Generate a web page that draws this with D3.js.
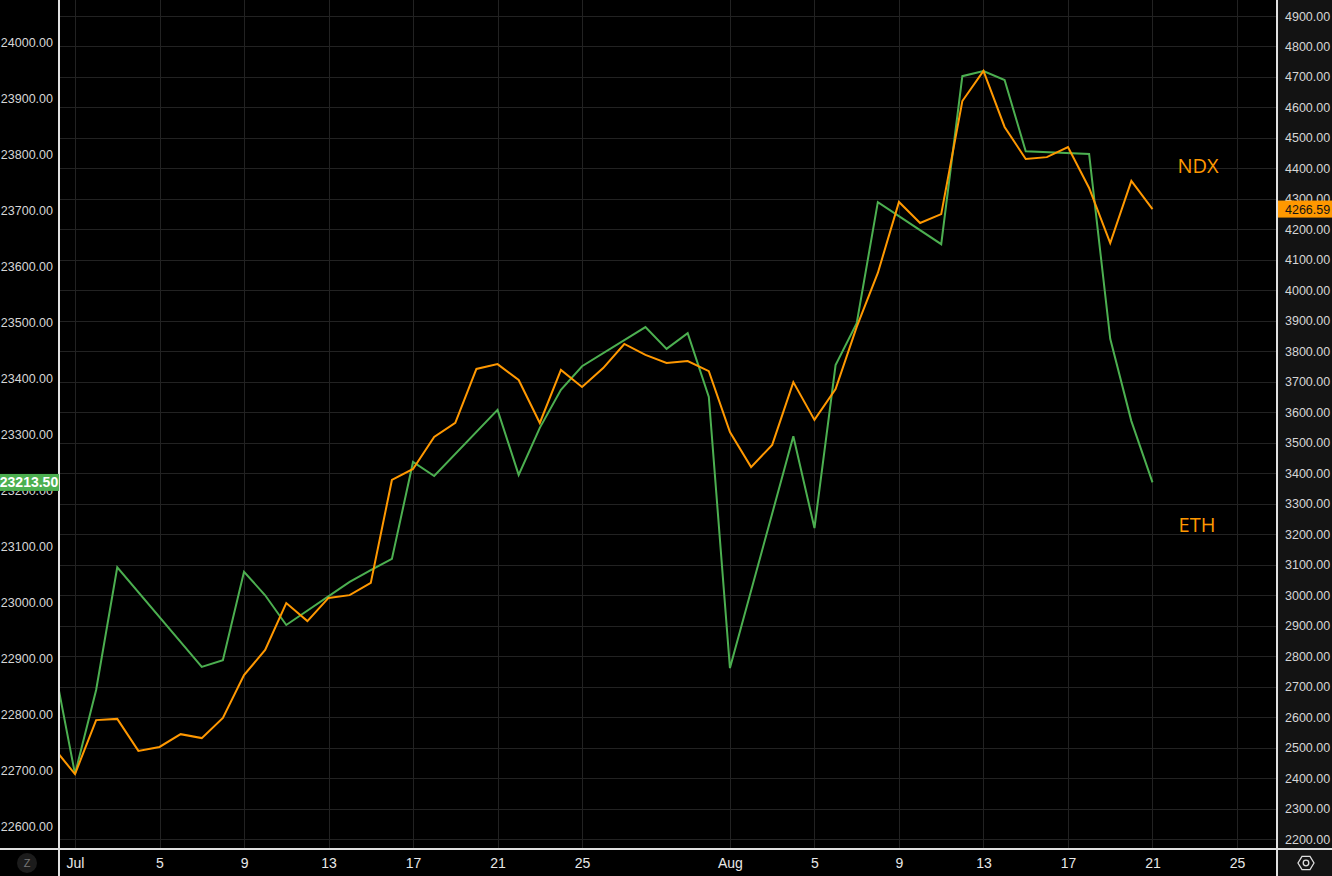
<!DOCTYPE html>
<html>
<head>
<meta charset="utf-8">
<script src="https://cdn.jsdelivr.net/npm/d3@7"></script>
<style>
  html, body { margin: 0; padding: 0; background: #000; }
  svg { display: block; }
</style>
</head>
<body>
<svg id="chart" width="1332" height="876"></svg>
<script>
// ---- Data ----
const ndxDates = ["2025-06-30","2025-07-01","2025-07-02","2025-07-03","2025-07-07","2025-07-08","2025-07-09","2025-07-10","2025-07-11",
  "2025-07-14","2025-07-15","2025-07-16","2025-07-17","2025-07-18","2025-07-21","2025-07-22","2025-07-23","2025-07-24","2025-07-25",
  "2025-07-28","2025-07-29","2025-07-30","2025-07-31","2025-08-01","2025-08-04","2025-08-05","2025-08-06","2025-08-07","2025-08-08",
  "2025-08-11","2025-08-12","2025-08-13","2025-08-14","2025-08-15","2025-08-18","2025-08-19","2025-08-20","2025-08-21"];
const ndxValues = [22889,22693,22843,23062,22884,22896,23054,23012,22959,
  23036,23057,23077,23250,23225,23343,23227,23311,23379,23421,
  23491,23452,23480,23366,22882,23296,23132,23423,23498,23714,
  23639,23939,23948,23932,23805,23800,23470,23323,23213.5];

const ethDates = ["2025-06-30","2025-07-01","2025-07-02","2025-07-03","2025-07-04","2025-07-05","2025-07-06","2025-07-07","2025-07-08",
  "2025-07-09","2025-07-10","2025-07-11","2025-07-12","2025-07-13","2025-07-14","2025-07-15","2025-07-16","2025-07-17","2025-07-18",
  "2025-07-19","2025-07-20","2025-07-21","2025-07-22","2025-07-23","2025-07-24","2025-07-25","2025-07-26","2025-07-27","2025-07-28",
  "2025-07-29","2025-07-30","2025-07-31","2025-08-01","2025-08-02","2025-08-03","2025-08-04","2025-08-05","2025-08-06","2025-08-07",
  "2025-08-08","2025-08-09","2025-08-10","2025-08-11","2025-08-12","2025-08-13","2025-08-14","2025-08-15","2025-08-16","2025-08-17",
  "2025-08-18","2025-08-19","2025-08-20","2025-08-21"];
const ethValues = [2498,2413,2590,2594,2489,2502,2544,2531,2597,
  2738,2820,2974,2915,2991,3000,3040,3378,3414,3519,
  3565,3742,3758,3706,3565,3739,3683,3745,3824,3788,
  3762,3768,3735,3535,3420,3493,3699,3575,3676,3880,
  4057,4290,4221,4250,4621,4720,4536,4431,4437,4470,
  4336,4155,4359,4266.59];

const xTickDates = ["2025-07-01","2025-07-05","2025-07-09","2025-07-13","2025-07-17","2025-07-21","2025-07-25",
  "2025-08-01","2025-08-05","2025-08-09","2025-08-13","2025-08-17","2025-08-21","2025-08-25"];
const xTickLabels = ["Jul","5","9","13","17","21","25","Aug","5","9","13","17","21","25"];

const leftTicks = d3.range(22600, 24001, 100);
const rightTicks = d3.range(2200, 4901, 100);

const ndxLastLabel = "23213.50";
const ethLastLabel = "4266.59";
const seriesNames = ["NDX", "ETH"];

// ---- Setup ----
const W = 1332, H = 876;
const plotL = 59, plotR = 1277, plotB = 849;
const GREEN = "#4caf50", ORANGE = "#ff9800";
const parse = d3.utcParse("%Y-%m-%d");

const svg = d3.select("#chart");

const x = d3.scaleUtc()
  .domain([parse("2025-07-01"), parse("2025-08-25")])
  .range([75, 1237]);
const yL = d3.scaleLinear().domain([22600, 24000]).range([826, 42]);
const yR = d3.scaleLinear().domain([2200, 4900]).range([839, 16]);

// backgrounds
svg.append("rect").attr("x", 0).attr("y", 0).attr("width", W).attr("height", H).attr("fill", "#000");
svg.append("rect").attr("x", plotR).attr("y", 0).attr("width", W - plotR).attr("height", H).attr("fill", "#131313");

// clip
svg.append("defs").append("clipPath").attr("id", "plotclip")
  .append("rect").attr("x", plotL + 1).attr("y", 0).attr("width", plotR - plotL - 1).attr("height", plotB);

// gridlines
const grid = svg.append("g").attr("stroke", "#222").attr("stroke-width", 1).attr("shape-rendering", "crispEdges");
grid.selectAll("line.h").data(rightTicks).join("line").attr("class", "h")
  .attr("x1", plotL).attr("x2", plotR)
  .attr("y1", d => Math.round(yR(d)) + 0.5).attr("y2", d => Math.round(yR(d)) + 0.5);
grid.selectAll("line.v").data(xTickDates).join("line").attr("class", "v")
  .attr("y1", 0).attr("y2", plotB)
  .attr("x1", d => Math.round(x(parse(d))) + 0.5).attr("x2", d => Math.round(x(parse(d))) + 0.5);

// lines
const plot = svg.append("g").attr("clip-path", "url(#plotclip)");
const ndxData = ndxDates.map((d, i) => ({ date: parse(d), v: ndxValues[i] }));
const ethData = ethDates.map((d, i) => ({ date: parse(d), v: ethValues[i] }));

plot.append("path").datum(ndxData)
  .attr("fill", "none").attr("stroke", GREEN).attr("stroke-width", 2).attr("stroke-linejoin", "miter")
  .attr("d", d3.line().x(d => x(d.date)).y(d => yL(d.v)));
plot.append("path").datum(ethData)
  .attr("fill", "none").attr("stroke", ORANGE).attr("stroke-width", 2).attr("stroke-linejoin", "miter")
  .attr("d", d3.line().x(d => x(d.date)).y(d => yR(d.v)));

// series annotation labels
svg.append("text").attr("x", 1198).attr("y", 173).attr("text-anchor", "middle")
  .attr("fill", ORANGE).attr("font-family", "'Open Sans', 'Noto Sans', sans-serif").attr("font-size", 20)
  .text(seriesNames[0]);
svg.append("text").attr("x", 1197).attr("y", 532).attr("text-anchor", "middle")
  .attr("fill", ORANGE).attr("font-family", "'Open Sans', 'Noto Sans', sans-serif").attr("font-size", 20)
  .text(seriesNames[1]);

// left axis
const fmt = d3.format(".2f");
const gL = svg.append("g").attr("transform", `translate(${plotL - 6},0)`)
  .call(d3.axisLeft(yL).tickValues(leftTicks).tickFormat(fmt).tickSize(0).tickPadding(0));
gL.select(".domain").remove();
gL.selectAll("text").attr("fill", "#d6d6d6").attr("font-family", "'Liberation Sans', Arial, sans-serif").attr("font-size", 12.5);

// right axis
const gR = svg.append("g").attr("transform", `translate(${plotR + 8},0)`)
  .call(d3.axisRight(yR).tickValues(rightTicks).tickFormat(fmt).tickSize(0).tickPadding(0));
gR.select(".domain").remove();
gR.selectAll("text").attr("fill", "#d6d6d6").attr("font-family", "'Liberation Sans', Arial, sans-serif").attr("font-size", 12.5);

// bottom axis
const gB = svg.append("g").attr("transform", `translate(0,${plotB})`)
  .call(d3.axisBottom(x).tickValues(xTickDates.map(parse))
    .tickFormat((d, i) => xTickLabels[i]).tickSize(0).tickPadding(9));
gB.select(".domain").remove();
gB.selectAll("text").attr("fill", "#e8e8e8").attr("font-family", "'Liberation Sans Narrow', 'Arial Narrow', sans-serif").attr("font-size", 14);

// axis border lines
const borders = svg.append("g").attr("stroke", "#e0e0e0").attr("stroke-width", 1.5).attr("shape-rendering", "crispEdges");
borders.append("line").attr("x1", plotL).attr("x2", plotL).attr("y1", 0).attr("y2", H);
borders.append("line").attr("x1", plotR).attr("x2", plotR).attr("y1", 0).attr("y2", H);
borders.append("line").attr("x1", 0).attr("x2", W).attr("y1", plotB).attr("y2", plotB);

// last value tags
const ndxLastY = yL(ndxValues[ndxValues.length - 1]);
svg.append("rect").attr("x", 0).attr("y", ndxLastY - 8.5).attr("width", plotL).attr("height", 17).attr("fill", GREEN);
svg.append("text").attr("x", 29).attr("y", ndxLastY).attr("dy", "0.36em").attr("text-anchor", "middle")
  .attr("fill", "#fff").attr("font-weight", "bold").attr("font-family", "'Liberation Sans Narrow', 'Arial Narrow', sans-serif")
  .attr("font-size", 14).text(ndxLastLabel);

const ethLastY = yR(ethValues[ethValues.length - 1]);
svg.append("rect").attr("x", plotR + 1).attr("y", ethLastY - 8.5).attr("width", W - plotR - 1).attr("height", 17).attr("fill", ORANGE);
svg.append("text").attr("x", plotR + 8).attr("y", ethLastY).attr("dy", "0.36em")
  .attr("fill", "#131313").attr("font-family", "'Liberation Sans', Arial, sans-serif")
  .attr("font-size", 12.5).text(ethLastLabel);

// bottom-left Z badge
svg.append("circle").attr("cx", 27).attr("cy", 863).attr("r", 10).attr("fill", "#1c1c1c");
svg.append("text").attr("x", 27).attr("y", 863).attr("dy", "0.36em").attr("text-anchor", "middle")
  .attr("fill", "#777").attr("font-family", "'Liberation Sans', Arial, sans-serif").attr("font-size", 11).text("Z");

// bottom-right settings icon
const cx = 1306, cy = 863, r = 8;
const hex = d3.range(6).map(i => {
  const a = Math.PI / 3 * i;
  return [cx + r * Math.cos(a), cy + r * Math.sin(a) * 0.95];
});
svg.append("path").attr("d", "M" + hex.map(p => p.join(",")).join("L") + "Z")
  .attr("fill", "none").attr("stroke", "#ddd").attr("stroke-width", 1.3);
svg.append("circle").attr("cx", cx).attr("cy", cy).attr("r", 2.8).attr("fill", "none").attr("stroke", "#ddd").attr("stroke-width", 1.3);
</script>
</body>
</html>
